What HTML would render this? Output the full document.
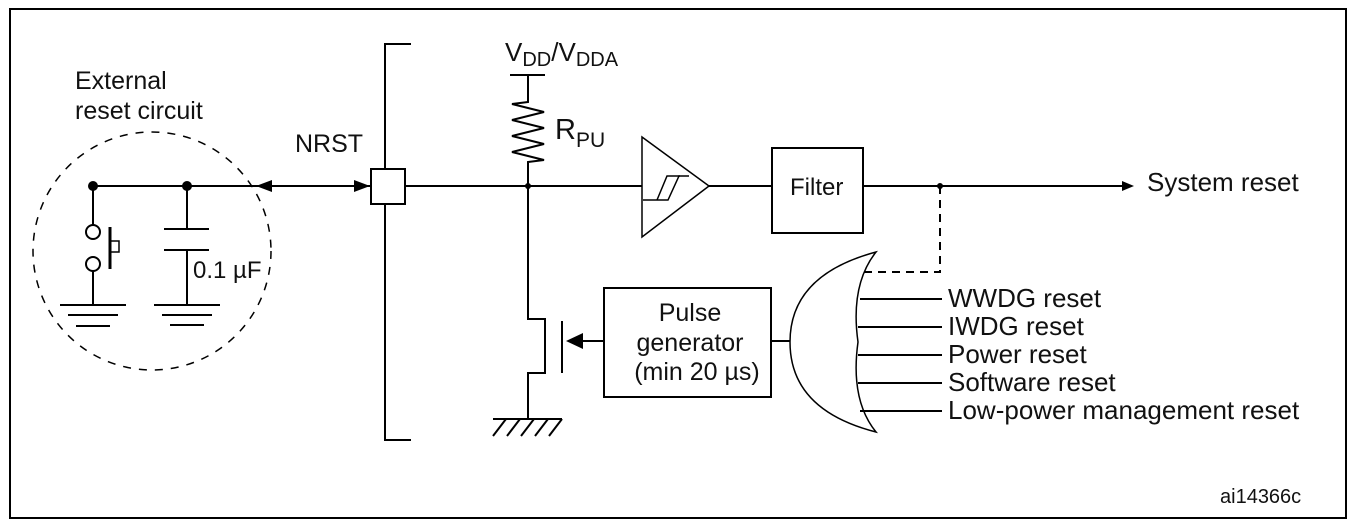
<!DOCTYPE html>
<html><head><meta charset="utf-8"><style>
html,body{margin:0;padding:0;background:#fff;}
svg{display:block;}
text{font-family:"Liberation Sans",Arial,sans-serif;fill:#111;}
</style></head><body>
<svg width="1352" height="526" viewBox="0 0 1352 526" xmlns="http://www.w3.org/2000/svg">
<rect x="10" y="9" width="1336" height="509" fill="none" stroke="#000" stroke-width="2"/>
<g stroke="#000" stroke-width="2" fill="none">
<circle cx="152" cy="251" r="119" stroke-width="1.5" stroke-dasharray="8,8"/>
<line x1="93" y1="186" x2="370" y2="186"/>
<line x1="93" y1="186" x2="93" y2="225"/>
<circle cx="93" cy="232" r="7" fill="#fff"/>
<circle cx="93" cy="264" r="7" fill="#fff"/>
<line x1="93" y1="271" x2="93" y2="305"/>
<line x1="110" y1="227" x2="110" y2="269" stroke-width="3"/>
<rect x="110" y="241" width="9" height="11" stroke-width="1.5"/>
<line x1="60" y1="305" x2="126" y2="305"/>
<line x1="68" y1="315" x2="118" y2="315"/>
<line x1="76" y1="326" x2="110" y2="326"/>
<line x1="187" y1="186" x2="187" y2="229"/>
<line x1="164" y1="229" x2="209" y2="229"/>
<line x1="164" y1="250" x2="209" y2="250"/>
<line x1="187" y1="250" x2="187" y2="305"/>
<line x1="154" y1="305" x2="220" y2="305"/>
<line x1="162" y1="315" x2="212" y2="315"/>
<line x1="170" y1="325" x2="204" y2="325"/>
<polyline points="411,44 385,44 385,440 411,440"/>
<rect x="371" y="169" width="34" height="35" fill="#fff"/>
<line x1="405" y1="186" x2="642" y2="186"/>
<line x1="510" y1="75" x2="545" y2="75"/>
<polyline points="528,75 528,102 512,104 544,112 512,120 544,128 512,136 544,144 512,152 544,160 528,162 528,186"/>
<polyline points="528,186 528,319 545,319 545,373 528,373 528,419"/>
<line x1="562" y1="321" x2="562" y2="373"/>
<line x1="493" y1="419" x2="562" y2="419"/>
<line x1="506" y1="419" x2="493" y2="436"/>
<line x1="520" y1="419" x2="507" y2="436"/>
<line x1="534" y1="419" x2="521" y2="436"/>
<line x1="548" y1="419" x2="535" y2="436"/>
<line x1="562" y1="419" x2="549" y2="436"/>
<line x1="583" y1="341" x2="604" y2="341"/>
<polygon points="642,137 642,237 709,186" stroke-width="1.5"/>
<polyline points="643,200 668,200 679,176 689,176" stroke-width="1.5"/>
<polyline points="657,200 667,176 680,176" stroke-width="1.5"/>
<line x1="709" y1="186" x2="772" y2="186"/>
<rect x="772" y="148" width="91" height="85"/>
<line x1="863" y1="186" x2="1125" y2="186"/>
<polyline points="940,186 940,272 862,272" stroke-dasharray="8,6"/>
<rect x="604" y="288" width="167" height="109"/>
<line x1="771" y1="341" x2="792" y2="341"/>
<path d="M876,252 Q790,275 790,342 Q790,410 876,432 Q850,400 858,342 Q850,285 876,252 Z" stroke-width="1.5" fill="#fff"/>
<line x1="860" y1="299" x2="942" y2="299"/>
<line x1="858" y1="327" x2="942" y2="327"/>
<line x1="858" y1="355" x2="942" y2="355"/>
<line x1="858" y1="383" x2="942" y2="383"/>
<line x1="860" y1="411" x2="942" y2="411"/>
</g>
<g fill="#000">
<circle cx="93" cy="186" r="5"/>
<circle cx="187" cy="186" r="5"/>
<circle cx="528" cy="186" r="3"/>
<circle cx="940" cy="186" r="3"/>
<polygon points="256,186 272,180 272,192"/>
<polygon points="370,186 354,180 354,192"/>
<polygon points="566,341 583,333 583,349"/>
<polygon points="1134,186 1122,181 1122,191"/>
</g>
<g font-size="25">
<text x="75" y="89">External</text>
<text x="75" y="119">reset circuit</text>
<text x="295" y="152">NRST</text>
<text x="193" y="278" font-size="24">0.1 µF</text>
<text x="505" y="61" font-size="26">V<tspan font-size="20" dy="5">DD</tspan><tspan dy="-5">/V</tspan><tspan font-size="20" dy="5">DDA</tspan></text>
<text x="555" y="139" font-size="29">R<tspan font-size="21" dy="8">PU</tspan></text>
<text x="790" y="195" font-size="24">Filter</text>
<text x="690" y="321" text-anchor="middle">Pulse</text>
<text x="690" y="351" text-anchor="middle">generator</text>
<text x="697" y="380" text-anchor="middle">(min 20 µs)</text>
<text x="1147" y="191" font-size="26">System reset</text>
</g>
<g font-size="26">
<text x="948" y="307">WWDG reset</text>
<text x="948" y="335">IWDG reset</text>
<text x="948" y="363">Power reset</text>
<text x="948" y="391">Software reset</text>
<text x="948" y="419">Low-power management reset</text>
</g>
<text x="1220" y="503" font-size="20">ai14366c</text>
</svg>
</body></html>
